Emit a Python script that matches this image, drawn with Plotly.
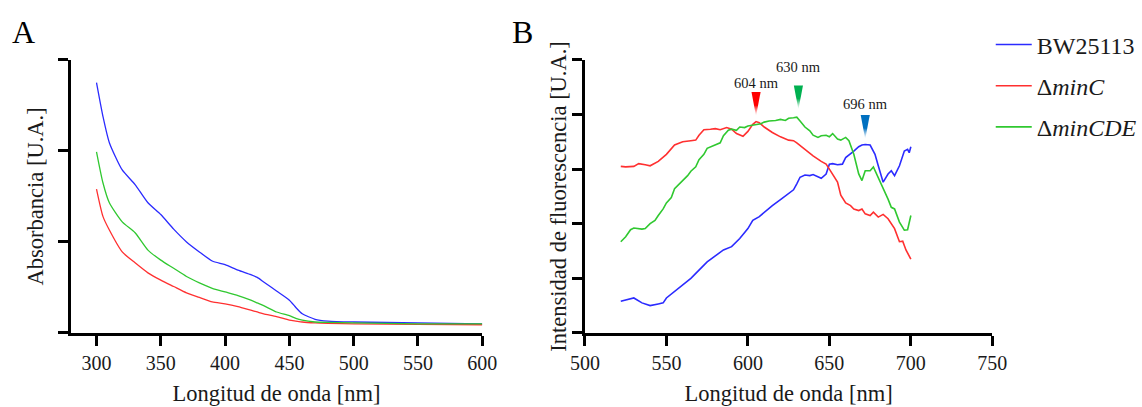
import plotly.graph_objects as go

# ---------------- Panel A: absorbance ----------------
abs_nm = [300, 305, 310, 320, 330, 340, 350, 360, 370, 380, 390, 400, 410, 420, 425,
          430, 440, 450, 455, 460, 470, 480, 500, 550, 600]
abs_bw = [2.75, 2.38, 2.09, 1.79, 1.63, 1.43, 1.30, 1.14, 1.00, 0.89, 0.79, 0.75, 0.69, 0.64, 0.61,
          0.56, 0.46, 0.36, 0.28, 0.21, 0.15, 0.13, 0.12, 0.11, 0.10]
abs_minc = [1.58, 1.28, 1.13, 0.89, 0.77, 0.66, 0.58, 0.51, 0.44, 0.39, 0.34, 0.32, 0.29, 0.25, 0.23,
            0.21, 0.18, 0.14, 0.13, 0.12, 0.11, 0.105, 0.10, 0.095, 0.09]
abs_mincde = [1.99, 1.65, 1.43, 1.22, 1.10, 0.91, 0.80, 0.71, 0.62, 0.55, 0.49, 0.45, 0.41, 0.36, 0.33,
              0.30, 0.23, 0.19, 0.16, 0.14, 0.12, 0.115, 0.11, 0.10, 0.10]

# ---------------- Panel B: fluorescence ----------------
fl_bw_nm = [522, 530, 535, 540, 545, 548, 550, 555, 560, 565, 570, 575, 580, 585, 590, 595, 600,
            603, 607, 610, 615, 620, 625, 628, 630, 632, 635, 638, 640, 645, 648, 650, 652, 655,
            658, 660, 665, 668, 670, 672, 675, 678, 680, 683, 686, 688, 690, 693, 696, 698, 699, 700]
fl_bw = [0.58, 0.64, 0.55, 0.50, 0.53, 0.55, 0.64, 0.76, 0.88, 1.00, 1.15, 1.30, 1.41, 1.52, 1.58,
         1.73, 1.91, 2.06, 2.13, 2.21, 2.33, 2.44, 2.55, 2.62, 2.73, 2.85, 2.89, 2.88, 2.90, 2.83,
         2.91, 3.09, 3.10, 3.08, 3.09, 3.21, 3.33, 3.41, 3.44, 3.45, 3.44, 3.27, 3.06, 2.76, 2.91,
         2.97, 2.88, 3.06, 3.33, 3.36, 3.30, 3.41]

fl_minc_nm = [522, 525, 530, 533, 537, 540, 545, 550, 555, 560, 565, 568, 570, 573, 577, 580, 583,
              587, 590, 593, 597, 600, 603, 605, 607, 610, 615, 620, 625, 628, 630, 635, 640, 645,
              648, 650, 655, 657, 660, 663, 665, 668, 670, 672, 675, 677, 680, 683, 686, 690, 693,
              695, 697, 700]
fl_minc = [3.05, 3.04, 3.05, 3.10, 3.08, 3.06, 3.14, 3.27, 3.44, 3.50, 3.52, 3.53, 3.62, 3.72, 3.73,
           3.74, 3.72, 3.76, 3.73, 3.65, 3.60, 3.69, 3.82, 3.87, 3.85, 3.77, 3.67, 3.59, 3.53, 3.52,
           3.48, 3.36, 3.24, 3.14, 3.09, 3.00, 2.76, 2.52, 2.38, 2.33, 2.27, 2.24, 2.27, 2.18, 2.15,
           2.21, 2.12, 2.17, 2.09, 1.91, 1.67, 1.68, 1.52, 1.35]

fl_mincde_nm = [522, 525, 528, 530, 535, 537, 540, 543, 545, 548, 550, 553, 555, 558, 560, 563, 565,
                568, 570, 573, 575, 578, 580, 583, 585, 588, 590, 593, 595, 598, 600, 603, 605, 608,
                610, 613, 617, 620, 623, 625, 628, 630, 632, 635, 638, 640, 643, 645, 648, 650, 652,
                655, 657, 660, 662, 665, 668, 670, 672, 675, 677, 680, 683, 686, 688, 690, 693, 696,
                698, 700]
fl_mincde = [1.67, 1.76, 1.89, 1.92, 1.90, 1.91, 2.00, 2.06, 2.15, 2.27, 2.38, 2.48, 2.64, 2.73, 2.79,
             2.88, 2.96, 3.04, 3.17, 3.27, 3.38, 3.42, 3.44, 3.48, 3.61, 3.71, 3.73, 3.71, 3.77, 3.76,
             3.79, 3.81, 3.82, 3.83, 3.86, 3.88, 3.89, 3.91, 3.89, 3.93, 3.94, 3.95, 3.88, 3.77, 3.70,
             3.62, 3.58, 3.61, 3.62, 3.59, 3.65, 3.55, 3.53, 3.58, 3.52, 3.27, 2.91, 2.79, 2.97, 2.97,
             3.04, 2.85, 2.64, 2.45, 2.30, 2.27, 2.03, 1.88, 1.89, 2.15]

# Peak markers (position of arrowhead tip) and their labels
peak_labels = ["604 nm", "630 nm", "696 nm"]
peak_nm = [605, 631, 672]
peak_tip = [3.97, 4.09, 3.55]
peak_label_y = [4.58, 4.86, 4.19]
peak_colors = ["#ff0000", "#00b050", "#0070c0"]

series_names = ["BW25113", "Δ<i>minC</i>", "Δ<i>minCDE</i>"]
series_colors = ["#2b2bff", "#ff3030", "#30c830"]

FONT = "Liberation Serif"
TXT = "#1a1a1a"

fig = go.Figure()

# Panel A traces
for yv, col in zip([abs_bw, abs_minc, abs_mincde], series_colors):
    fig.add_trace(go.Scatter(x=abs_nm, y=yv, mode="lines", xaxis="x", yaxis="y",
                             line=dict(color=col, width=1.3, shape="spline", smoothing=0.6),
                             showlegend=False, hoverinfo="skip"))

# Panel B traces
for i, (xv, yv) in enumerate([(fl_bw_nm, fl_bw), (fl_minc_nm, fl_minc), (fl_mincde_nm, fl_mincde)]):
    fig.add_trace(go.Scatter(x=xv, y=yv, mode="lines", xaxis="x2", yaxis="y2",
                             name=series_names[i], legendgroup=str(i),
                             line=dict(color=series_colors[i], width=1.6)))

# Peak triangles
tri_h = 0.44
tri_hw = 2.8
for nm, tip, col in zip(peak_nm, peak_tip, peak_colors):
    fig.add_trace(go.Scatter(x=[nm - tri_hw, nm + tri_hw, nm, nm - tri_hw],
                             y=[tip + tri_h, tip + tri_h, tip, tip + tri_h],
                             mode="lines", fill="toself", xaxis="x2", yaxis="y2",
                             line=dict(width=0, color=col),
                             fillgradient=dict(type="vertical",
                                               colorscale=[[0, "rgba(255,255,255,0.6)"], [0.45, col], [1, col]]),
                             showlegend=False, hoverinfo="skip"))

for lab, nm, ly in zip(peak_labels, peak_nm, peak_label_y):
    fig.add_annotation(x=nm, y=ly, xref="x2", yref="y2", text=lab, showarrow=False,
                       font=dict(family=FONT, size=14.5, color=TXT))

axis_common = dict(showline=True, linecolor="black", linewidth=3, ticks="outside",
                   ticklen=10, tickwidth=3, tickcolor="black", showgrid=False, zeroline=False,
                   automargin=False,
                   tickfont=dict(family=FONT, size=20, color=TXT))

TFS = 22.5
ydom = [0.182, 0.853]
fig.update_layout(
    width=1142, height=407,
    margin=dict(l=0, r=0, t=0, b=0),
    font=dict(family=FONT, color=TXT),
    paper_bgcolor="white", plot_bgcolor="white",
    xaxis=dict(domain=[0.0622, 0.4238], range=[280, 600], tickvals=[300, 350, 400, 450, 500, 550, 600],
               anchor="y",
               title=dict(text="Longitud de onda [nm]", font=dict(family=FONT, size=TFS, color=TXT), standoff=13),
               **axis_common),
    yaxis=dict(domain=ydom, range=[0, 3], tickvals=[0, 1, 2, 3], showticklabels=False, anchor="x",
               title=dict(text="Absorbancia [U.A.]", font=dict(family=FONT, size=TFS, color=TXT), standoff=8),
               **axis_common),
    xaxis2=dict(domain=[0.514, 0.872], range=[500, 750], tickvals=[500, 550, 600, 650, 700, 750],
                anchor="y2",
                title=dict(text="Longitud de onda [nm]", font=dict(family=FONT, size=TFS, color=TXT), standoff=13),
                **axis_common),
    yaxis2=dict(domain=ydom, range=[0, 5], tickvals=[0, 1, 2, 3, 4, 5], showticklabels=False, anchor="x2",
                title=dict(text="Intensidad de fluorescencia [U.A.]", font=dict(family=FONT, size=TFS, color=TXT),
                           standoff=0),
                **axis_common),
    legend=dict(x=0.8706, y=0.945, xanchor="left", yanchor="top", tracegroupgap=7, itemwidth=36,
                font=dict(family=FONT, size=24, color=TXT), bgcolor="rgba(0,0,0,0)"),
)

fig.add_annotation(x=10 / 1142, y=1 - 12 / 407, xref="paper", yref="paper", text="A", showarrow=False,
                   xanchor="left", yanchor="top", font=dict(family=FONT, size=32, color="black"))
fig.add_annotation(x=512 / 1142, y=1 - 12 / 407, xref="paper", yref="paper", text="B", showarrow=False,
                   xanchor="left", yanchor="top", font=dict(family=FONT, size=32, color="black"))

fig.write_html("out.html", config={"displayModeBar": False},
               post_script="document.body.style.margin='0';")
